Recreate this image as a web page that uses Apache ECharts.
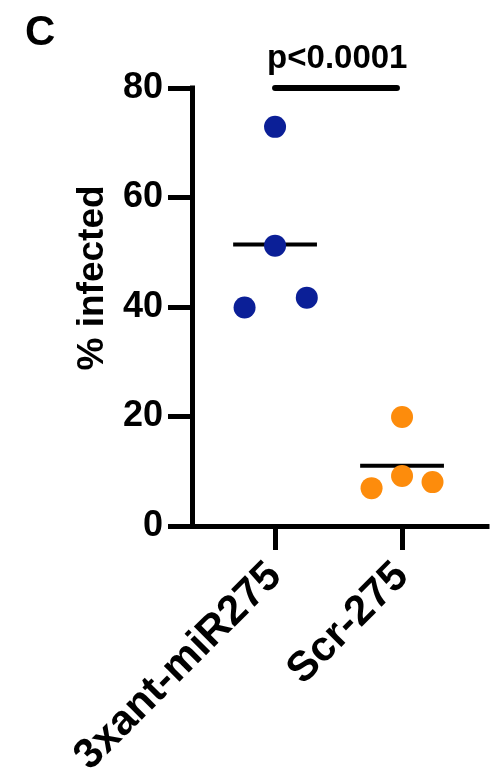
<!DOCTYPE html>
<html>
<head>
<meta charset="utf-8">
<script src="https://cdn.jsdelivr.net/npm/echarts@6/dist/echarts.min.js"></script>
<style>
  html, body { margin: 0; padding: 0; background: #ffffff; }
  #chart { width: 500px; height: 780px; }
</style>
</head>
<body>
<div id="chart"></div>
<script>
// Groups on the x axis
const groups = ['3xant-miR275', 'Scr-275'];
// Percent infected, one value per replicate
const antValues = [72.9, 51.2, 39.9, 41.7];
const scrValues = [19.9, 9.1, 6.9, 8.0];
// Horizontal scatter of the replicates inside each column (in column units)
const antSpread = [0, 0, -0.24, 0.25];
const scrSpread = [0, 0, -0.24, 0.24];
// Y axis ticks
const yTicks = [0, 20, 40, 60, 80];
// Comparison annotation
const pLabel = 'p<0.0001';
const barLevel = 80;

const FONT = '"Liberation Sans", Arial, Helvetica, sans-serif';
const INK = '#000000';
const BLUE = '#0b1f97';
const ORANGE = '#fd8c0c';

const mean = arr => arr.reduce((a, b) => a + b, 0) / arr.length;
const points = (vals, spread, col) => vals.map((v, i) => [col + spread[i], v]);
const meanBar = (vals, col) => [[col - 0.33, mean(vals)], [col + 0.33, mean(vals)]];

const chart = echarts.init(document.getElementById('chart'), null, { renderer: 'canvas' });

chart.setOption({
  animation: false,
  backgroundColor: '#ffffff',
  title: {
    text: 'C',
    left: 20,
    top: 7,
    textStyle: { fontFamily: FONT, fontWeight: 'bold', fontSize: 42, color: INK }
  },
  grid: { left: 192, right: 13, top: 88, bottom: 253, containLabel: false },
  xAxis: {
    type: 'value',
    min: 0.346,
    max: 2.669,
    splitLine: { show: false },
    axisLine: { show: true, lineStyle: { color: INK, width: 5, cap: 'square' } },
    axisTick: { show: true, customValues: [1, 2], length: 24, lineStyle: { color: INK, width: 5 } },
    axisLabel: {
      show: true,
      customValues: [1, 2],
      rotate: 45,
      margin: 44,
      formatter: v => groups[Math.round(v) - 1] || '',
      fontFamily: FONT, fontWeight: 'bold', fontSize: 42, color: INK
    }
  },
  yAxis: {
    type: 'value',
    min: 0,
    max: 80,
    interval: 20,
    name: '% infected',
    nameLocation: 'middle',
    nameGap: 81,
    nameTextStyle: { fontFamily: FONT, fontWeight: 'bold', fontSize: 37, color: INK, padding: [0, 0, 0, 58] },
    splitLine: { show: false },
    axisLine: { show: true, lineStyle: { color: INK, width: 5, cap: 'square' } },
    axisTick: { show: true, length: 24, lineStyle: { color: INK, width: 5 } },
    axisLabel: {
      margin: 29,
      formatter: v => (yTicks.indexOf(v) >= 0 ? String(v) : ''),
      fontFamily: FONT, fontWeight: 'bold', fontSize: 36, color: INK
    }
  },
  series: [
    {
      type: 'line',
      data: meanBar(antValues, 1),
      symbol: 'none',
      lineStyle: { color: INK, width: 4 },
      z: 2
    },
    {
      type: 'line',
      data: meanBar(scrValues, 2),
      symbol: 'none',
      lineStyle: { color: INK, width: 4 },
      z: 2
    },
    {
      type: 'scatter',
      data: points(antValues, antSpread, 1),
      symbolSize: 22,
      itemStyle: { color: BLUE, opacity: 1 },
      z: 3
    },
    {
      type: 'scatter',
      data: points(scrValues, scrSpread, 2),
      symbolSize: 22,
      itemStyle: { color: ORANGE, opacity: 1 },
      z: 3
    },
    {
      // significance bar between the two groups
      type: 'line',
      data: [[1, barLevel], [1.96, barLevel]],
      symbol: 'none',
      clip: false,
      lineStyle: { color: INK, width: 6, cap: 'round' },
      z: 2
    },
    {
      // p-value text above the bar
      type: 'scatter',
      data: [[1.49, barLevel]],
      symbolSize: 0,
      clip: false,
      itemStyle: { color: INK, opacity: 1 },
      label: {
        show: true,
        position: 'top',
        distance: 13,
        formatter: pLabel,
        opacity: 1,
        fontFamily: FONT, fontWeight: 'bold', fontSize: 33, color: INK
      },
      z: 4
    }
  ]
});
</script>
</body>
</html>
